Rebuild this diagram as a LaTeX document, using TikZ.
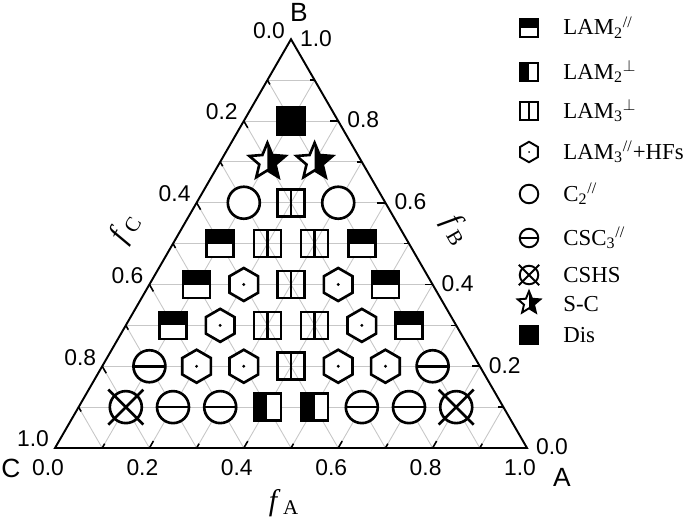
\documentclass[tikz,border=0pt]{standalone}
\usepackage{fontspec}
\setmainfont{Liberation Serif}
\setsansfont{Liberation Sans}
\tikzset{
  frame/.style={line width=1.1pt, draw=black, line join=miter},
  gridline/.style={line width=0.5pt, draw=black!22},
  tickmark/.style={line width=0.9pt, draw=black},
  ticklabel/.style={font=\sffamily\fontsize{13}{15}\selectfont, inner sep=0pt},
  vertexlabel/.style={font=\sffamily\fontsize{15}{17}\selectfont, inner sep=0pt},
  axistitle/.style={font=\fontsize{17}{19}\selectfont, inner sep=0pt},
  legendtext/.style={font=\fontsize{13}{15}\selectfont, anchor=base west, inner sep=0pt},
  symline/.style={line width=1.5pt},
  sym/.style={symline, draw=black, line join=miter},
  pics/lamtwopar/.style={code={
    \fill[white] (-13.5,-13.5) rectangle (13.5,13.5);
    \fill[black] (-13.5,0) rectangle (13.5,13.5);
    \draw[sym] (-13.5,-13.5) rectangle (13.5,13.5);
  }},
  pics/lamtwoperp/.style={code={
    \fill[white] (-13.5,-13.5) rectangle (13.5,13.5);
    \fill[black] (-13.5,-13.5) rectangle (0,13.5);
    \draw[sym] (-13.5,-13.5) rectangle (13.5,13.5);
  }},
  pics/lamthreeperp/.style={code={
    \draw[sym] (-13.5,-13.5) rectangle (13.5,13.5) (0,-13.5) -- (0,13.5);
  }},
  pics/hexdot/.style={code={
    \draw[sym, fill=white] (90:16.5) -- (150:16.5) -- (210:16.5) -- (270:16.5) -- (330:16.5) -- (30:16.5) -- cycle;
    \fill[black] (0,0) circle (1.6);
  }},
  pics/ctwo/.style={code={
    \draw[sym, fill=white] (0,0) circle (16);
  }},
  pics/cscthree/.style={code={
    \draw[sym, fill=white] (0,0) circle (16);
    \draw[sym] (-16,0) -- (16,0);
  }},
  pics/cshs/.style={code={
    \draw[sym, fill=white] (0,0) circle (16);
    \draw[sym] (-17.5,-17.5) -- (17.5,17.5) (-17.5,17.5) -- (17.5,-17.5);
  }},
  pics/sc/.style={code={
    \fill[white] (90:19) -- (126:8.5) -- (162:19) -- (198:8.5) -- (234:19) -- (270:8.5) -- (306:19) -- (342:8.5) -- (18:19) -- (54:8.5) -- cycle;
    \begin{scope}
      \clip (0,-21) rectangle (21,21);
      \fill[black] (90:19) -- (126:8.5) -- (162:19) -- (198:8.5) -- (234:19) -- (270:8.5) -- (306:19) -- (342:8.5) -- (18:19) -- (54:8.5) -- cycle;
    \end{scope}
    \draw[sym] (90:19) -- (126:8.5) -- (162:19) -- (198:8.5) -- (234:19) -- (270:8.5) -- (306:19) -- (342:8.5) -- (18:19) -- (54:8.5) -- cycle;
  }},
  pics/dis/.style={code={
    \draw[sym, fill=black] (-14,-14) rectangle (14,14);
  }},
}
\begin{document}
\begin{tikzpicture}[x=0.02cm, y=0.02cm]
\useasboundingbox (0,0) rectangle (685,525);
\coordinate (C) at (55,77);
\coordinate (A) at (527,77);
\coordinate (B) at (291,485.76);
% grid
\foreach \i in {1,...,9} {
  \pgfmathsetmacro\a{\i/10}
  \pgfmathsetmacro\b{1-\i/10}
  \draw[gridline] (barycentric cs:A=\a,C=\b) -- (barycentric cs:A=\a,B=\b);
  \draw[gridline] (barycentric cs:B=\a,C=\b) -- (barycentric cs:B=\a,A=\b);
  \draw[gridline] (barycentric cs:C=\a,B=\b) -- (barycentric cs:C=\a,A=\b);
}
\draw[frame] (A) -- (B) -- (C) -- cycle;
% ticks
\foreach \i in {1,...,9} {
  \pgfmathsetmacro\a{\i/10}
  \pgfmathsetmacro\b{1-\i/10}
  \pgfmathsetmacro\len{isodd(\i) ? 5 : 8}
  \draw[tickmark] (barycentric cs:A=\a,C=\b) -- ++(60:\len);
  \draw[tickmark] (barycentric cs:B=\a,A=\b) -- ++(180:\len);
  \draw[tickmark] (barycentric cs:C=\a,B=\b) -- ++(-60:\len);
}
% tick labels
\foreach \i/\v in {0/0.0,2/0.2,4/0.4,6/0.6,8/0.8,10/1.0} {
  \pgfmathsetmacro\w{1-\v}
  \node[ticklabel, shift={(-7,-20)}] (fa\i) at (barycentric cs:A=\v,C=\w) {\v};
  \node[ticklabel, shift={(25,1)}] (fb\i) at (barycentric cs:A=\w,B=\v) {\v};
  \node[ticklabel, shift={(-22,9)}] (fc\i) at (barycentric cs:B=\w,C=\v) {\v};
}
\node[vertexlabel, shift={(8,27)}] (labB) at (B) {B};
\node[vertexlabel, shift={(-44,-20)}] (labC) at (C) {C};
\node[vertexlabel, shift={(35,-29)}] (labA) at (A) {A};
\node[axistitle] (titleA) at (284,22) {\textit{f}\kern1.5pt\textsubscript{A}};
\node[axistitle, rotate=-60] (titleB) at (456,295) {\textit{f}\kern1.5pt\textsubscript{B}};
\node[axistitle, rotate=60] (titleC) at (125,297) {\textit{f}\kern1.5pt\textsubscript{C}};
% phases (fA/fB)
\foreach \a/\b in {0.1/0.5,0.4/0.5,0.1/0.4,0.5/0.4,0.1/0.3,0.6/0.3}
  \pic at (barycentric cs:A=\a,B=\b,C={1-\a-\b}) {lamtwopar};
\foreach \a/\b in {0.4/0.1,0.5/0.1}
  \pic at (barycentric cs:A=\a,B=\b,C={1-\a-\b}) {lamtwoperp};
\foreach \a/\b in {0.2/0.6,0.2/0.5,0.3/0.5,0.3/0.4,0.3/0.3,0.4/0.3,0.4/0.2}
  \pic at (barycentric cs:A=\a,B=\b,C={1-\a-\b}) {lamthreeperp};
\foreach \a/\b in {0.2/0.4,0.4/0.4,0.2/0.3,0.5/0.3,0.2/0.2,0.3/0.2,0.5/0.2,0.6/0.2}
  \pic at (barycentric cs:A=\a,B=\b,C={1-\a-\b}) {hexdot};
\foreach \a/\b in {0.1/0.6,0.3/0.6}
  \pic at (barycentric cs:A=\a,B=\b,C={1-\a-\b}) {ctwo};
\foreach \a/\b in {0.1/0.2,0.7/0.2,0.2/0.1,0.3/0.1,0.6/0.1,0.7/0.1}
  \pic at (barycentric cs:A=\a,B=\b,C={1-\a-\b}) {cscthree};
\foreach \a/\b in {0.1/0.1,0.8/0.1}
  \pic at (barycentric cs:A=\a,B=\b,C={1-\a-\b}) {cshs};
\foreach \a/\b in {0.1/0.7,0.2/0.7}
  \pic at (barycentric cs:A=\a,B=\b,C={1-\a-\b}) {sc};
\pic at (barycentric cs:A=0.1,B=0.8,C=0.1) {dis};
% legend
\begin{scope}[symline/.style={line width=1.1pt}]
\pic[scale=0.65] at (529,497) {lamtwopar};
\pic[scale=0.65] at (529,453) {lamtwoperp};
\pic[scale=0.65] at (529,414) {lamthreeperp};
\pic[scale=0.62] at (529,373) {hexdot};
\pic[scale=0.58] at (529,331) {ctwo};
\pic[scale=0.58] at (529,287) {cscthree};
\pic[scale=0.58] at (529,250) {cshs};
\pic[scale=0.62] at (529,222) {sc};
\pic[scale=0.62] at (529,190) {dis};
\end{scope}
\node[legendtext] (leg1) at (563,490) {LAM\textsubscript{2}\textsuperscript{//}};
\node[legendtext] (leg2) at (563,446) {LAM\textsubscript{2}\textsuperscript{$\perp$}};
\node[legendtext] (leg3) at (563,407) {LAM\textsubscript{3}\textsuperscript{$\perp$}};
\node[legendtext] (leg4) at (563,366) {LAM\textsubscript{3}\textsuperscript{//}+HFs};
\node[legendtext] (leg5) at (563,324) {C\textsubscript{2}\textsuperscript{//}};
\node[legendtext] (leg6) at (563,280) {CSC\textsubscript{3}\textsuperscript{//}};
\node[legendtext] (leg7) at (563,243) {CSHS};
\node[legendtext] (leg8) at (563,214) {S-C};
\node[legendtext] (leg9) at (563,183) {Dis};
\end{tikzpicture}
\end{document}
